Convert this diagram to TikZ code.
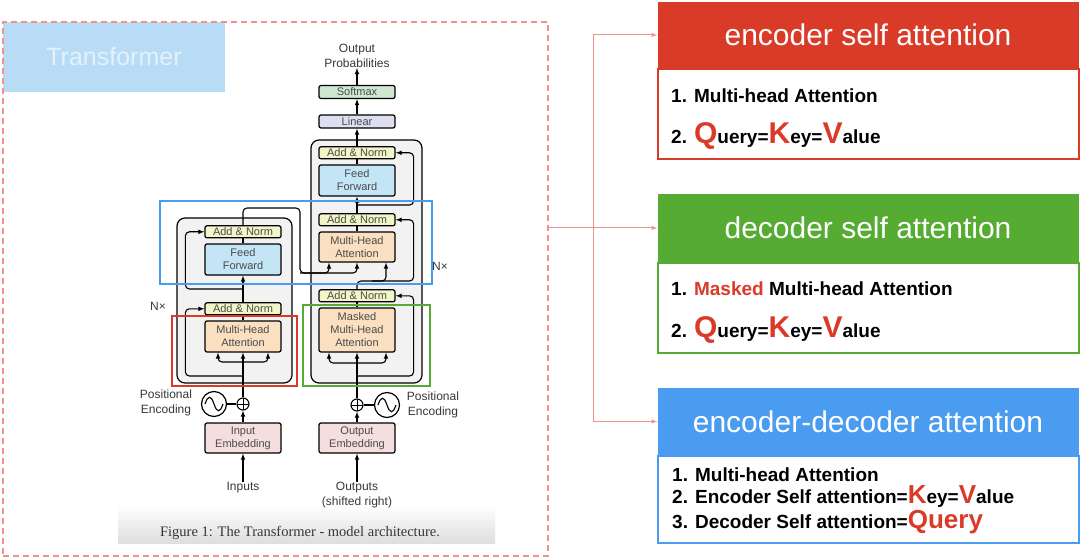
\documentclass[tikz,border=0pt]{standalone}
\usepackage{fontspec}
\setmainfont{Liberation Sans}
\newfontfamily\paperfont{Liberation Serif}
\usetikzlibrary{arrows,positioning,shapes}

\definecolor{encred}{RGB}{218,58,40}
\definecolor{decgreen}{RGB}{86,171,51}
\definecolor{crossblue}{RGB}{74,156,240}
\definecolor{linkpink}{RGB}{240,145,140}
\definecolor{tagblue}{RGB}{184,220,246}
\definecolor{annfill}{RGB}{241,245,200}
\definecolor{fffill}{RGB}{196,229,245}
\definecolor{mhafill}{RGB}{250,224,192}
\definecolor{embfill}{RGB}{245,222,222}
\definecolor{linfill}{RGB}{221,222,240}
\definecolor{smfill}{RGB}{206,231,208}
\definecolor{stackfill}{RGB}{242,242,242}
\definecolor{boxink}{RGB}{75,75,75}
\definecolor{labink}{RGB}{55,55,55}

\tikzstyle{layer}=[rectangle,rounded corners=2pt,draw=black,line width=1.2pt,
minimum width=76pt,inner sep=0pt,text=boxink,font=\fontsize{11}{13}\selectfont,align=center]
\tikzstyle{addnorm}=[layer,fill=annfill,minimum height=12pt]
\tikzstyle{feedfwd}=[layer,fill=fffill,minimum height=31pt]
\tikzstyle{attention}=[layer,fill=mhafill,minimum height=31pt]
\tikzstyle{embedding}=[layer,fill=embfill,minimum height=30pt]
\tikzstyle{stackbox}=[rectangle,rounded corners=8pt,draw=black,line width=1.2pt,
fill=stackfill,inner sep=0pt]
\tikzstyle{plus}=[circle,draw=black,line width=1.1pt,minimum size=12pt,inner sep=0pt,
path picture={\draw[line width=0.9pt] (path picture bounding box.north) -- (path picture bounding box.south)
(path picture bounding box.west) -- (path picture bounding box.east);}]
\tikzstyle{posenc}=[circle,draw=black,line width=1.2pt,minimum size=25pt,inner sep=0pt,
path picture={\coordinate (w) at (path picture bounding box.center);
\draw[line width=1.1pt] ([xshift=-9pt]w) .. controls ([xshift=-6pt,yshift=9pt]w) and ([xshift=-3pt,yshift=9pt]w) .. (w)
.. controls ([xshift=3pt,yshift=-9pt]w) and ([xshift=6pt,yshift=-9pt]w) .. ([xshift=9pt]w);}]
\tikzstyle{lbl}=[text=labink,font=\fontsize{12}{15}\selectfont,align=center,inner sep=0pt]
\tikzstyle{wire}=[draw=black,line width=1.1pt,rounded corners=4pt]
\tikzstyle{hilite}=[line width=2pt]
\tikzstyle{head}=[rectangle,minimum width=421pt,inner sep=0pt,text=white,font=\fontsize{30}{36}\selectfont]
\tikzstyle{body}=[rectangle,minimum width=421pt,inner sep=0pt,fill=white,line width=2pt]
\tikzstyle{item}=[anchor=base west,inner sep=0pt,font=\fontsize{19}{23}\selectfont\bfseries]
\tikzstyle{link}=[draw=linkpink,line width=1pt,-latex]

\newcommand{\qkv}[2][30]{{\fontsize{#1}{#1}\selectfont\color{encred}#2}}

\begin{document}
\begin{tikzpicture}[x=1pt,y=-1pt,>=latex]
            \useasboundingbox (0,0) rectangle (1080,559);

            % PAPER FIGURE PART

            \node[fill=tagblue,minimum width=222pt,minimum height=70pt,inner sep=0pt,
                text=white!60!tagblue,font=\fontsize{25}{30}\selectfont] (tag) at (114,57) {Transformer};
            \shade[top color=white,bottom color=black!13] (118,505) rectangle (495,543);
            \node[text=labink,font=\paperfont\fontsize{14.5}{17}\selectfont] (caption) at (300,533)
                {Figure 1: The Transformer - model architecture.};

            \node[stackbox,minimum width=115pt,minimum height=165pt] (encstack) at (234.5,300.5) {};
            \node[stackbox,minimum width=111pt,minimum height=243pt] (decstack) at (366.5,261.5) {};

            % ENCODER PART

            \node[lbl] (inputs) at (243,488) {Inputs};
            \node[embedding] (iemb) at (243,438) {Input\\Embedding};
            \node[plus] (plus1) at (243,404) {};
            \node[posenc] (pe1) at (214,404) {};
            \node[lbl] (pelab1) at (166,403) {Positional\\Encoding};
            \node[attention] (emha) at (243,336.5) {Multi-Head\\Attention};
            \node[addnorm,above=5pt of emha] (ean1) {Add \& Norm};
            \node[feedfwd] (eff) at (243,259.5) {Feed\\Forward};
            \node[addnorm,above=5pt of eff] (ean2) {Add \& Norm};
            \node[lbl] (nx1) at (158,306) {N×};

            \coordinate (esplit) at (243,362);
            \coordinate (eres1) at (243,376);
            \coordinate (eres2) at (243,289);
            \coordinate (eo1) at (300,208);
            \coordinate (eo2) at (300,273);

            \draw[wire,->] (inputs) -- (iemb);
            \draw[wire,->] (iemb) -- (plus1);
            \draw[wire] (pe1) -- (plus1);
            \draw[wire,->] (plus1) -- (emha);
            \draw[wire,->] (esplit) -| ([xshift=-25pt]emha.south);
            \draw[wire,->] (esplit) -| ([xshift=25pt]emha.south);
            \draw[wire,->] (eres1) -| ([xshift=-19pt]ean1.west) -- (ean1.west);
            \draw[wire] (emha) -- (ean1);
            \draw[wire,->] (ean1) -- (eff);
            \draw[wire,->] (eres2) -| ([xshift=-19pt]ean2.west) -- (ean2.west);
            \draw[wire] (eff) -- (ean2);

            % DECODER PART

            \node[lbl] (outputs) at (357,495) {Outputs\\(shifted right)};
            \node[embedding] (oemb) at (357,438) {Output\\Embedding};
            \node[plus] (plus2) at (357,405) {};
            \node[posenc] (pe2) at (387,405) {};
            \node[lbl] (pelab2) at (433,405) {Positional\\Encoding};
            \node[attention,minimum height=44pt] (dmmha) at (357,330) {Masked\\Multi-Head\\Attention};
            \node[addnorm,above=5pt of dmmha] (dan1) {Add \& Norm};
            \node[attention,minimum height=30pt] (dmha) at (357,247) {Multi-Head\\Attention};
            \node[addnorm,above=5pt of dmha] (dan2) {Add \& Norm};
            \node[feedfwd] (dff) at (357,180.5) {Feed\\Forward};
            \node[addnorm,above=5pt of dff] (dan3) {Add \& Norm};
            \node[layer,fill=linfill,minimum height=13pt] (linear) at (357,121.5) {Linear};
            \node[layer,fill=smfill,minimum height=13pt] (softmax) at (357,92) {Softmax};
            \node[lbl] (outprob) at (357,56) {Output\\Probabilities};
            \node[lbl] (nx2) at (440,266) {N×};

            \coordinate (dsplit) at (357,363);
            \coordinate (dres1) at (357,376);
            \coordinate (dq) at (372,281);
            \coordinate (dres3) at (357,205);

            \draw[wire,->] (outputs) -- (oemb);
            \draw[wire,->] (oemb) -- (plus2);
            \draw[wire] (pe2) -- (plus2);
            \draw[wire,->] (plus2) -- (dmmha);
            \draw[wire,->] (dsplit) -| ([xshift=-28pt]dmmha.south);
            \draw[wire,->] (dsplit) -| ([xshift=29pt]dmmha.south);
            \draw[wire,->] (dres1) -| ([xshift=18pt]dan1.east) -- (dan1.east);
            \draw[wire] (dmmha) -- (dan1);
            \draw[wire,->] (dan1.north) |- (dq) -| ([xshift=29pt]dmha.south);
            \draw[wire,->] (dq) -| ([xshift=18pt]dan2.east) -- (dan2.east);
            \draw[wire] (dmha) -- (dan2);
            \draw[wire,->] (dan2) -- (dff);
            \draw[wire,->] (dres3) -| ([xshift=18pt]dan3.east) -- (dan3.east);
            \draw[wire] (dff) -- (dan3);
            \draw[wire,->] (dan3) -- (linear);
            \draw[wire,->] (linear) -- (softmax);
            \draw[wire,->] (softmax) -- (outprob);

            % Encoder into decoder

            \draw[wire,->] (ean2.north) |- (eo1) -- (eo2) -| ([xshift=-28pt]dmha.south);
            \draw[wire,->] (eo2) -| (dmha.south);

            % Highlights

            \draw[hilite,draw=crossblue] (160,201) rectangle (432,284);
            \draw[hilite,draw=encred] (172,316) rectangle (297,386);
            \draw[hilite,draw=decgreen] (303,305) rectangle (430,386);

            \node[draw=linkpink,line width=1.5pt,dash pattern=on 6pt off 4pt,
                minimum width=545pt,minimum height=534pt,inner sep=0pt] (frame) at (275.5,289) {};

            % ATTENTION PANELS

            \node[head,fill=encred,minimum height=66pt] (enchead) at (868,35) {encoder self attention};
            \node[body,draw=encred,minimum height=90pt,below=0pt of enchead] (encbody) {};
            \node[item] (enc1) at (671,103) {1. Multi-head Attention};
            \node[item] (enc2) at (671,144) {2. \qkv{Q}uery=\qkv{K}ey=\qkv{V}alue};

            \node[head,fill=decgreen,minimum height=68pt] (dechead) at (868,228) {decoder self attention};
            \node[body,draw=decgreen,minimum height=90pt,below=0pt of dechead] (decbody) {};
            \node[item] (dec1) at (671,295) {1. {\color{encred}Masked} Multi-head Attention};
            \node[item] (dec2) at (671,337) {2. \qkv{Q}uery=\qkv{K}ey=\qkv{V}alue};

            \node[head,fill=crossblue,minimum height=67pt] (crosshead) at (868,421.5) {encoder-decoder attention};
            \node[body,draw=crossblue,minimum height=87pt,below=0pt of crosshead] (crossbody) {};
            \node[item] (cross1) at (672,481) {1. Multi-head Attention};
            \node[item] (cross2) at (672,503) {2. Encoder Self attention=\qkv[26]{K}ey=\qkv[26]{V}alue};
            \node[item] (cross3) at (672,528) {3. Decoder Self attention=\qkv[26]{Query}};

            % Connections to panels

            \coordinate (hub) at (593,228);
            \draw[link] (frame.east |- dechead) -- (dechead.west);
            \draw[link] (hub) |- (enchead.west);
            \draw[link] (hub) |- (crosshead.west);

\end{tikzpicture}
\end{document}
